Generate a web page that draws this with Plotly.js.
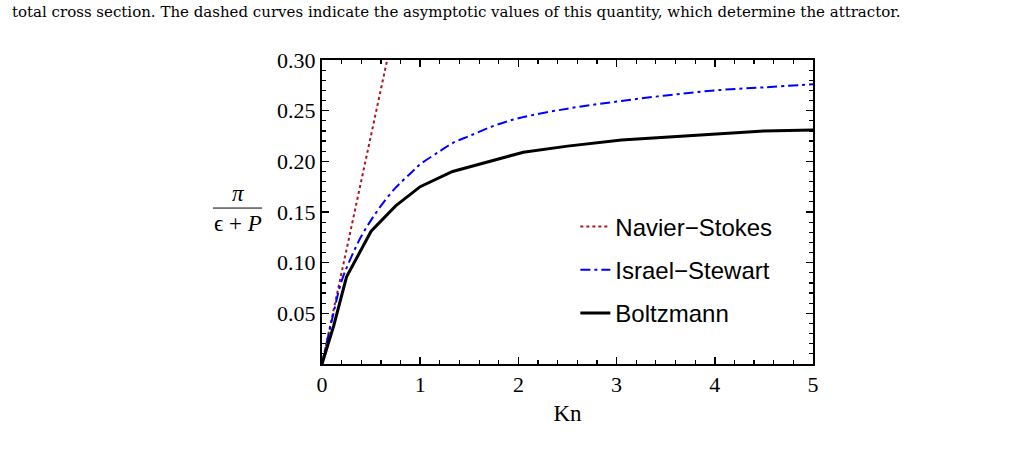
<!DOCTYPE html>
<html>
<head>
<meta charset="utf-8">
<script src="https://cdn.plot.ly/plotly-3.0.1.min.js"></script>
<style>
  html, body { margin: 0; padding: 0; background: #ffffff; }
  #chart { width: 1024px; height: 454px; }
</style>
</head>
<body>
<div id="chart"></div>
<script>
// values
var ns_kn = [0, 1];
var ns_ratio = [0, 0.452];

var is_kn = [0, 0.1, 0.2, 0.3, 0.4, 0.5, 0.6, 0.75, 0.9, 1.0, 1.2, 1.33, 1.5, 1.75, 2.0, 2.5, 3.0, 3.5, 4.0, 4.5, 5.0];
var is_ratio = [0, 0.043, 0.082, 0.106, 0.126, 0.142, 0.156, 0.174, 0.188, 0.197, 0.210, 0.218, 0.225, 0.235, 0.2425, 0.252, 0.259, 0.265, 0.270, 0.273, 0.276];

var bz_kn = [0, 0.12, 0.25, 0.5, 0.75, 1.0, 1.33, 2.05, 2.5, 3.05, 4.5, 5.0];
var bz_ratio = [0, 0.038, 0.086, 0.131, 0.156, 0.175, 0.190, 0.209, 0.215, 0.221, 0.230, 0.231];

var x_ticks = [0, 1, 2, 3, 4, 5];
var y_ticks = [0.05, 0.10, 0.15, 0.20, 0.25, 0.30];
var y_tick_labels = ["0.05", "0.10", "0.15", "0.20", "0.25", "0.30"];

var caption = "total cross section. The dashed curves indicate the asymptotic values of this quantity, which determine the attractor.";

var serif = "Liberation Serif, Times New Roman, serif";
var sans = "Liberation Sans, Arial, sans-serif";

var traces = [
  {
    x: ns_kn, y: ns_ratio, mode: "lines", name: "Navier\u2212Stokes",
    legendgroup: "a",
    line: {color: "#b0141e", width: 2, dash: "dot"}
  },
  {
    x: is_kn, y: is_ratio, mode: "lines", name: "Israel\u2212Stewart",
    legendgroup: "b", line: {color: "#0000ff", width: 2, dash: "10px,4px,3px,4px", shape: "spline"}
  },
  {
    x: bz_kn, y: bz_ratio, mode: "lines", name: "Boltzmann",
    legendgroup: "c",
    line: {color: "#000000", width: 3}
  }
];

var layout = {
  width: 1024,
  height: 454,
  paper_bgcolor: "#ffffff",
  plot_bgcolor: "#ffffff",
  margin: {l: 322, r: 211, t: 60, b: 90},
  showlegend: true,
  legend: {
    x: 0.516, y: 0.525, xanchor: "left", yanchor: "top",
    bgcolor: "rgba(0,0,0,0)",
    font: {family: sans, size: 24, color: "#000000"},
    traceorder: "grouped",
    tracegroupgap: 9
  },
  xaxis: {
    range: [0, 5],
    tickvals: x_ticks,
    ticks: "inside", ticklen: 7, tickwidth: 1.5, tickcolor: "#000000",
    minor: {dtick: 0.2, ticks: "inside", ticklen: 4, tickwidth: 1.2, tickcolor: "#000000"},
    showgrid: false, zeroline: false,
    showline: true, linecolor: "#000000", linewidth: 2, mirror: "allticks",
    tickfont: {family: serif, size: 22, color: "#000000"},
    title: {text: "Kn", font: {family: serif, size: 23, color: "#000000"}, standoff: 8}
  },
  yaxis: {
    range: [0, 0.30],
    tickvals: y_ticks,
    ticktext: y_tick_labels,
    ticks: "inside", ticklen: 7, tickwidth: 1.5, tickcolor: "#000000",
    minor: {dtick: 0.01, ticks: "inside", ticklen: 4, tickwidth: 1.2, tickcolor: "#000000"},
    showgrid: false, zeroline: false,
    showline: true, linecolor: "#000000", linewidth: 2, mirror: "allticks",
    tickfont: {family: serif, size: 22, color: "#000000"}
  },
  annotations: [
    {
      // caption line from the page above the chart
      text: caption, xref: "paper", yref: "paper",
      x: -0.6354, y: 1.158, xanchor: "left", yanchor: "middle", showarrow: false,
      font: {family: "DejaVu Serif, serif", size: 15, color: "#000000"}
    },
    {
      text: "<i>\u03c0</i>", xref: "paper", yref: "paper",
      x: -0.171, y: 0.562, xanchor: "center", yanchor: "middle", showarrow: false,
      font: {family: serif, size: 23, color: "#000000"}
    },
    {
      text: "\u03f5 + <i>P</i>", xref: "paper", yref: "paper",
      x: -0.171, y: 0.461, xanchor: "center", yanchor: "middle", showarrow: false,
      font: {family: "Liberation Serif, DejaVu Serif, serif", size: 23, color: "#000000"}
    }
  ],
  shapes: [
    {
      type: "line", xref: "paper", yref: "paper",
      x0: -0.222, x1: -0.122, y0: 0.513, y1: 0.513,
      line: {color: "#000000", width: 1}
    }
  ]
};

Plotly.newPlot("chart", traces, layout, {displayModeBar: false, staticPlot: true});
</script>
</body>
</html>
